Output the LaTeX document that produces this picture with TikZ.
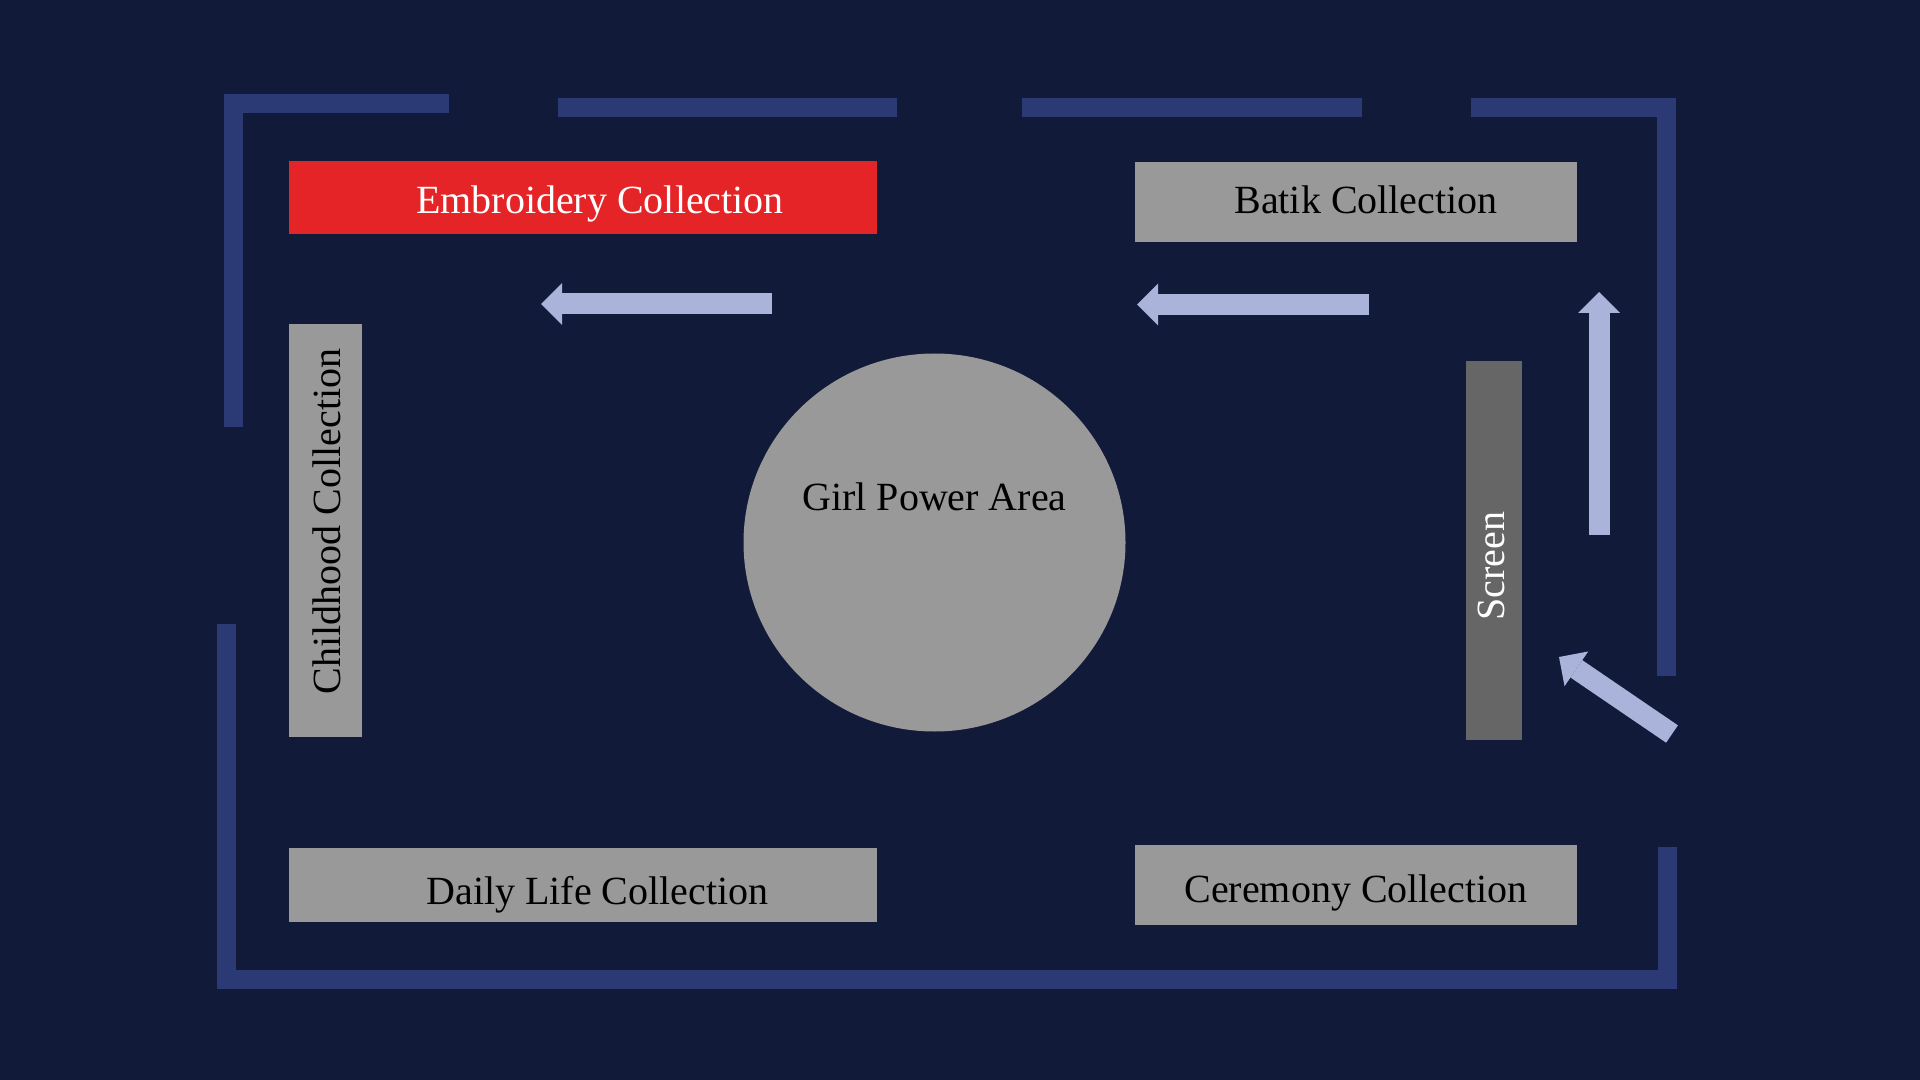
\documentclass[tikz,border=0pt]{standalone}
\usepackage{fontspec}
\setmainfont{Liberation Serif}
\usetikzlibrary{arrows.meta}
\definecolor{floorblue}{RGB}{18,26,58}
\definecolor{wallblue}{RGB}{43,58,116}
\definecolor{flowblue}{RGB}{170,179,218}
\definecolor{standred}{RGB}{229,36,39}
\definecolor{standgray}{RGB}{153,153,153}
\definecolor{screengray}{RGB}{102,102,102}

\begin{document}
\begin{tikzpicture}[x=0.5pt,y=-0.5pt,
  wall/.style={draw=wallblue,line width=9.5pt},
  flow/.style={draw=flowblue,line width=10.5pt,-{Triangle[width=21pt,length=10.5pt,line width=0pt]}},
  roomtext/.style={inner sep=0pt,text height=13pt,text depth=0pt,font=\fontsize{20}{24}\selectfont}]
\fill[floorblue] (0,0) rectangle (1920,1080); % floor
% walls, with gaps for the doors
\draw[wall] (449,103.5) -| (233.5,427);
\draw[wall] (558,107.5) -- (897,107.5);
\draw[wall] (1022,107.5) -- (1362,107.5);
\draw[wall] (1471,107.5) -| (1666.5,676);
\draw[wall] (226.5,624) |- (1667.5,979.5) -- (1667.5,847);
% stands
\fill[standred] (289,161) rectangle (877,234);
\fill[standgray] (1135,162) rectangle (1577,242);
\fill[standgray] (289,324) rectangle (362,737);
\fill[standgray] (289,848) rectangle (877,922);
\fill[standgray] (1135,845) rectangle (1577,925);
\fill[screengray] (1466,361) rectangle (1522,740);
\fill[standgray] (934.5,542.5) ellipse (191 and 189);
% names
\node[roomtext,white] (embroidery) at (600,201) {Embroidery Collection};
\node[roomtext] (batik) at (1366,201) {Batik Collection};
\node[roomtext,rotate=90] (childhood) at (327,521.5) {Childhood Collection};
\node[roomtext] (dailylife) at (597.5,891) {Daily Life Collection};
\node[roomtext] (ceremony) at (1356,889) {Ceremony Collection};
\node[roomtext,white,rotate=90] (screen) at (1491,566) {Screen};
\node[roomtext] (girlpower) at (934.5,497.5) {Girl Power Area};
% visitor route
\coordinate (entry) at (1672,734);
\coordinate (entry tip) at (1559,657);
\coordinate (up tail) at (1599,535);
\coordinate (up tip) at (1599,292);
\coordinate (right tail) at (1369,304.5);
\coordinate (right tip) at (1137,304.5);
\coordinate (left tail) at (772,304);
\coordinate (left tip) at (541,304);
\draw[flow] (entry) -- (entry tip);
\draw[flow] (up tail) -- (up tip);
\draw[flow] (right tail) -- (right tip);
\draw[flow] (left tail) -- (left tip);
\end{tikzpicture}
\end{document}
